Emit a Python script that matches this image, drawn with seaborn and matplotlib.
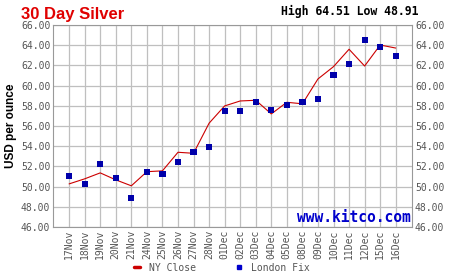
import numpy as np
import pandas as pd
import matplotlib
matplotlib.use("Agg")
import matplotlib.pyplot as plt
from matplotlib.lines import Line2D
import seaborn as sns

dates = ["17Nov", "18Nov", "19Nov", "20Nov", "21Nov", "24Nov", "25Nov", "26Nov",
         "27Nov", "28Nov", "01Dec", "02Dec", "03Dec", "04Dec", "05Dec", "08Dec",
         "09Dec", "10Dec", "11Dec", "12Dec", "15Dec", "16Dec"]
ny_close = [50.27, 50.77, 51.36, 50.67, 50.08, 51.48, 51.56, 53.40, 53.30, 56.28,
            57.99, 58.48, 58.55, 57.20, 58.35, 58.20, 60.66, 61.88, 63.60, 61.94,
            64.02, 63.72]
london_fix = [51.06, 50.27, 52.22, 50.83, 48.91, 51.43, 51.23, 52.42, 53.40, 53.90,
              57.46, 57.46, 58.35, 57.59, 58.05, 58.35, 58.65, 61.02, 62.11, 64.51,
              63.79, 62.93]
y_ticks = [46, 48, 50, 52, 54, 56, 58, 60, 62, 64, 66]

df = pd.DataFrame({"pos": np.arange(len(dates)), "date": dates,
                   "ny": ny_close, "london": london_fix})

sns.set_style("white")
mono = "DejaVu Sans Mono"
grey = "#555555"

fig = plt.figure(figsize=(4.5, 2.75), dpi=100)
ax = fig.add_axes([0.118, 0.1745, 0.798, 0.7345])

sns.lineplot(data=df, x="pos", y="ny", ax=ax, color="#cc0000", linewidth=0.8,
             label="NY Close", zorder=3)
sns.scatterplot(data=df, x="pos", y="london", ax=ax, marker="s", color="#0000aa",
                s=20, edgecolor="none", label="London Fix", zorder=4)

ax.set_xlim(-1.03, 22.06)
ax.set_ylim(46, 66)
ax.set_xticks(df["pos"])
ax.set_xticklabels(dates, rotation=90, fontsize=7, family=mono, color=grey)
ax.set_yticks(y_ticks)
ax.set_yticklabels([f"{v:.2f}" for v in y_ticks], fontsize=7, family=mono, color=grey)
ax.tick_params(axis="both", length=0, pad=2)
ax.tick_params(axis="y", labelright=True, right=False)
ax.grid(True, color="#bfbfbf", linewidth=0.9)
for s in ax.spines.values():
    s.set_color("#999999")
    s.set_linewidth(0.8)
ax.set_xlabel("")
ax.set_ylabel("USD per ounce", fontsize=8.5, fontweight="bold",
              family="Liberation Sans", color="black", labelpad=3)

fig.text(0.047, 0.931, "30 Day Silver", fontsize=12, fontweight="bold",
         family="Liberation Sans", color="#e00000", va="baseline", ha="left")
fig.text(0.929, 0.945, "High 64.51 Low 48.91", fontsize=8.3, fontweight="bold",
         family=mono, color="black", va="baseline", ha="right")
ax.text(0.995, 0.012, "www.kitco.com", transform=ax.transAxes, fontsize=10.5,
        fontweight="bold", family=mono, color="#0000cc", ha="right", va="bottom",
        zorder=5)

handles = [Line2D([], [], color="#cc0000", linewidth=2.5),
           Line2D([], [], color="#0000cc", marker="s", linestyle="none", markersize=3)]
ax.legend(handles, ["NY Close", "London Fix"], ncol=2, frameon=False,
          loc="center", bbox_to_anchor=(0.493, 0.027), bbox_transform=fig.transFigure,
          prop={"family": mono, "size": 7}, handlelength=0.6, handletextpad=0.9,
          columnspacing=4.2, borderaxespad=0, labelcolor=grey)

fig.savefig("out.png", dpi=100, facecolor="white")
